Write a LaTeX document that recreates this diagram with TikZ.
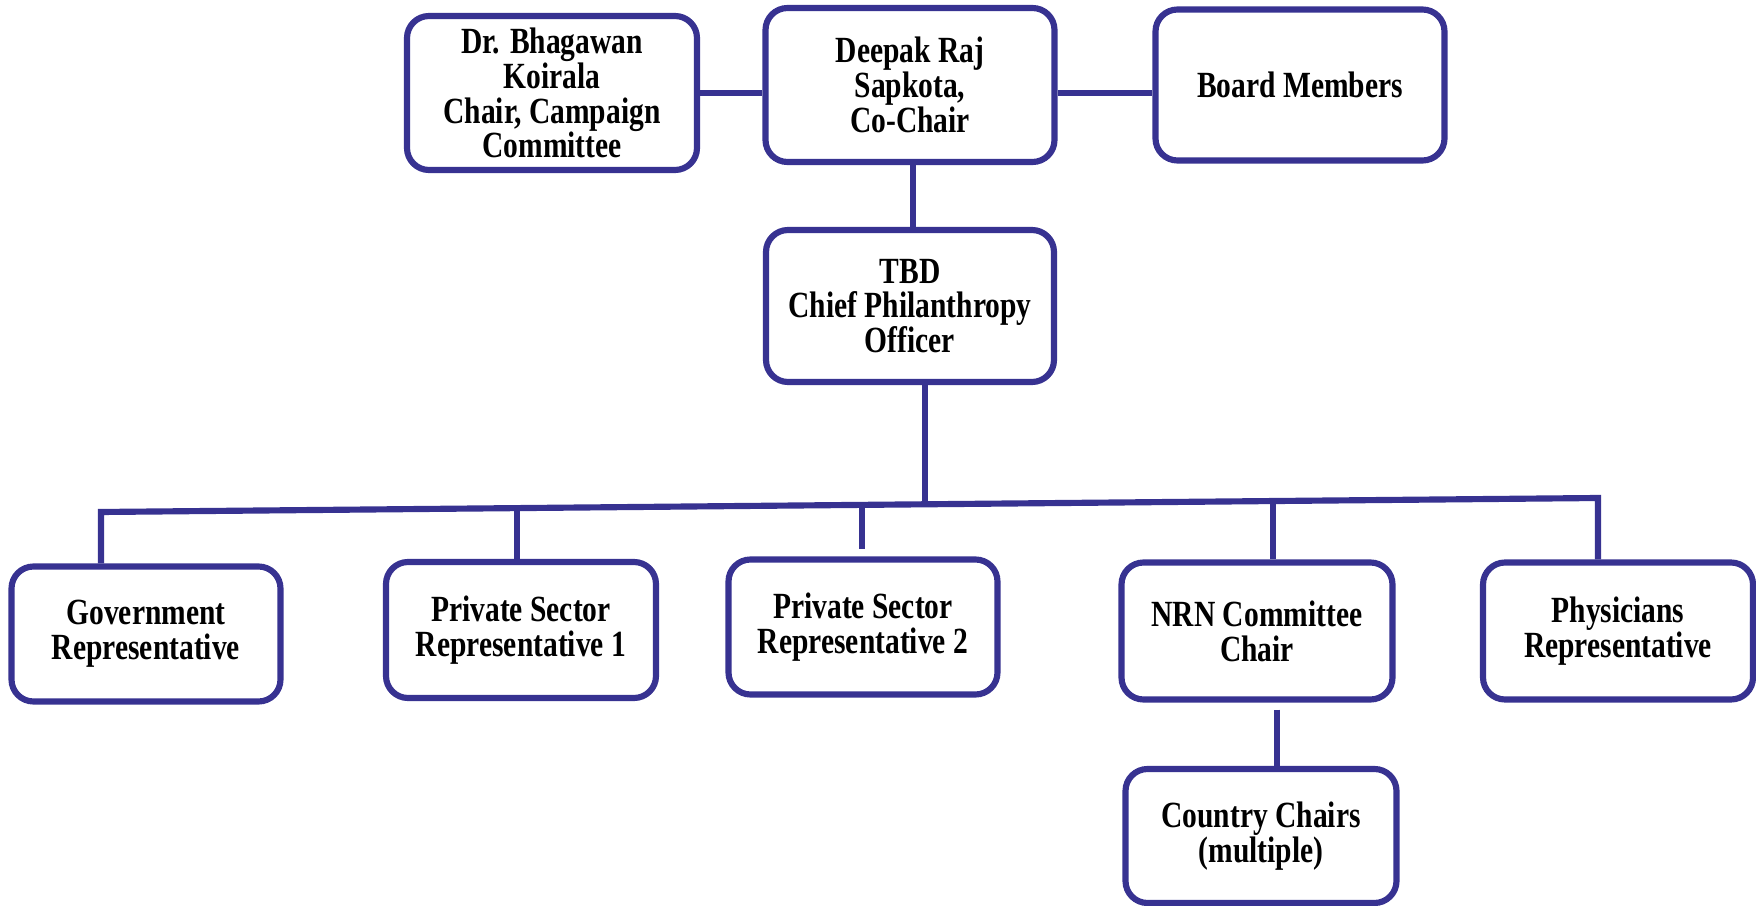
\documentclass[tikz,border=0pt]{standalone}
\usepackage{fontspec}
\newfontfamily\boxfont{Liberation Serif}[FakeStretch=0.8]
\usepackage{tikz}
\definecolor{orgblue}{RGB}{55,50,145}

\begin{document}
\begin{tikzpicture}[x=0.1mm, y=-0.1mm,
    orgbox/.style={draw=orgblue, line width=1.75pt, rounded corners=2.2mm, fill=white,
        align=center, inner sep=0pt, font=\boxfont\bfseries\fontsize{10.5}{9.9}\selectfont},
    orgline/.style={draw=orgblue, line width=1.75pt}]
    \useasboundingbox (0,0) rectangle (1756,906);

    \node[orgbox, minimum width=29mm, minimum height=15.4mm] (bhag) at (552,93) {Dr. Bhagawan\\Koirala\\Chair, Campaign\\Committee};
    \node[orgbox, minimum width=28.9mm, minimum height=15.4mm] (deepak) at (910,85) {Deepak Raj\\Sapkota,\\Co-Chair};
    \node[orgbox, minimum width=28.9mm, minimum height=15.1mm] (board) at (1300,85) {Board Members};
    \node[orgbox, minimum width=28.8mm, minimum height=15.2mm] (tbd) at (910,306) {TBD\\Chief Philanthropy\\Officer};

    \node[orgbox, minimum width=26.9mm, minimum height=13.5mm] (gov) at (146,634) {Government\\Representative};
    \node[orgbox, minimum width=27mm, minimum height=13.6mm] (priv1) at (521,630) {Private Sector\\Representative 1};
    \node[orgbox, minimum width=26.9mm, minimum height=13.5mm] (priv2) at (863,627) {Private Sector\\Representative 2};
    \node[orgbox, minimum width=27.1mm, minimum height=13.7mm] (nrn) at (1257,631) {NRN Committee\\Chair};
    \node[orgbox, minimum width=27mm, minimum height=13.7mm] (phys) at (1618,631) {Physicians\\Representative};
    \node[orgbox, minimum width=27.1mm, minimum height=13.4mm] (country) at (1261,836) {Country Chairs\\(multiple)};

    \coordinate (busL) at (101,512);
    \coordinate (busR) at (1598,498);
    \coordinate (busT) at (925,504);
    \coordinate (busP1) at (517,508);
    \coordinate (busP2) at (862,505);
    \coordinate (busN) at (1273,501);

    \draw[orgline] (bhag.east |- 0,93) -- (deepak.west |- 0,93);
    \draw[orgline] (deepak.east |- 0,93) -- (board.west |- 0,93);
    \draw[orgline] (deepak.south -| 913,0) -- (tbd.north -| 913,0);
    \draw[orgline] (tbd.south -| busT) -- (busT);
    \draw[orgline] (gov.north -| busL) -- (busL) -- (busR) -- (phys.north -| busR);
    \draw[orgline] (busP1) -- (priv1.north -| busP1);
    \draw[orgline, shorten >=0.7mm] (busP2) -- (priv2.north -| busP2);
    \draw[orgline] (busN) -- (nrn.north -| busN);
    \draw[orgline, shorten <=0.7mm] (nrn.south -| 1277,0) -- (country.north -| 1277,0);
\end{tikzpicture}
\end{document}
